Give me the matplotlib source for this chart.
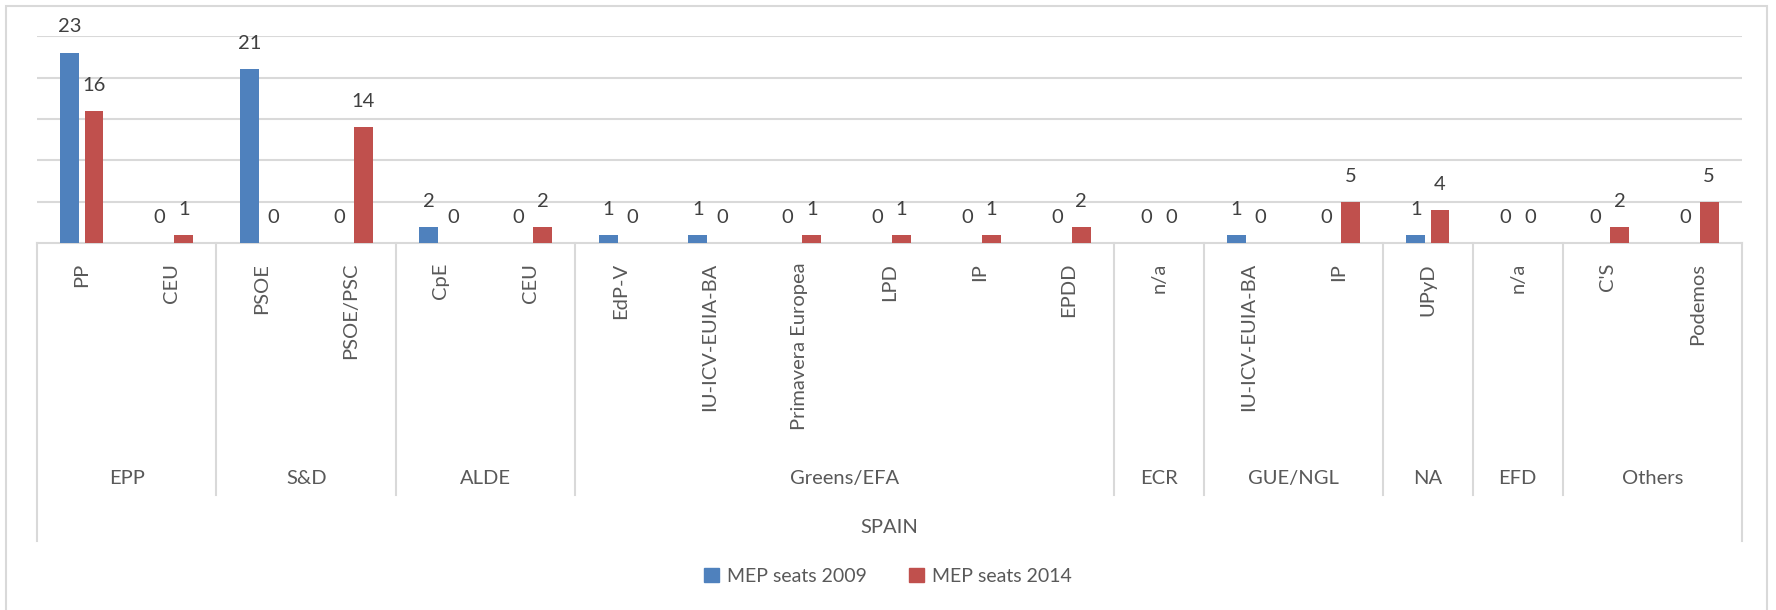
import numpy as np
import matplotlib
matplotlib.use('Agg')
import matplotlib.pyplot as plt
from matplotlib.patches import Rectangle, Patch

plt.rcParams['font.family'] = ['Lato', 'DejaVu Sans']

# party lists, grouped by EP political group
parties = ['PP', 'CEU', 'PSOE', 'PSOE/PSC', 'CpE', 'CEU', 'EdP-V', 'IU-ICV-EUIA-BA',
           'Primavera Europea', 'LPD', 'IP', 'EPDD', 'n/a', 'IU-ICV-EUIA-BA', 'IP',
           'UPyD', 'n/a', "C'S", 'Podemos']
groups = ['EPP', 'S&D', 'ALDE', 'Greens/EFA', 'ECR', 'GUE/NGL', 'NA', 'EFD', 'Others']
group_sizes = [2, 2, 2, 6, 1, 2, 1, 1, 2]
country = 'SPAIN'
seats_2009 = [23, 0, 21, 0, 2, 0, 1, 1, 0, 0, 0, 0, 0, 1, 0, 1, 0, 0, 0]
seats_2014 = [16, 1, 0, 14, 0, 2, 0, 0, 1, 1, 1, 2, 0, 0, 5, 4, 0, 2, 5]

blue = '#4F81BD'
red = '#C0504D'
text_col = '#595959'
grid_col = '#D9D9D9'

W, H = 1776, 610
fig = plt.figure(figsize=(W / 100, H / 100), dpi=100)

# plot area in pixel terms
left_px, right_px = 37, 1742
top_px, base_px = 36, 243.5
ax = fig.add_axes([left_px / W, 1 - base_px / H, (right_px - left_px) / W, (base_px - top_px) / H])

x = np.arange(len(parties))
bw = 0.21
off = 0.135
ax.bar(x - off, seats_2009, bw, color=blue, label='MEP seats 2009', zorder=3)
ax.bar(x + off, seats_2014, bw, color=red, label='MEP seats 2014', zorder=3)

for xi, v1, v2 in zip(x, seats_2009, seats_2014):
    for xx, v in ((xi - off, v1), (xi + off, v2)):
        ax.annotate(str(v), (xx, v), xytext=(0, 18.5), textcoords='offset points',
                    ha='center', va='center', fontsize=14.5, color='#404040')

ax.set_xlim(-0.5, len(parties) - 0.5)
ax.set_ylim(0, 25)
ax.set_yticks([5, 10, 15, 20, 25])
ax.yaxis.grid(True, color=grid_col, lw=1.5, zorder=0)
ax.set_xticks([])
ax.tick_params(left=False, labelleft=False)
for s in ['top', 'right', 'left']:
    ax.spines[s].set_visible(False)
ax.spines['bottom'].set_color(grid_col)
ax.spines['bottom'].set_linewidth(1.5)

# multi-level category axis
tr = ax.get_xaxis_transform()
ph = base_px - top_px
def ay(px):
    return -(px - base_px) / ph

for xi, name in zip(x, parties):
    ax.text(xi, ay(263), name, rotation=90, ha='center', va='top',
            fontsize=14.5, color=text_col, transform=tr)

edges = np.concatenate([[0], np.cumsum(group_sizes)]) - 0.5
for i, e in enumerate(edges):
    outer = i == 0 or i == len(edges) - 1
    ax.plot([e, e], [0, ay(541 if outer else 495)], color=grid_col, lw=1.5,
            transform=tr, clip_on=False)
for g, a, b in zip(groups, edges[:-1], edges[1:]):
    ax.text((a + b) / 2, ay(479), g, ha='center', va='center',
            fontsize=14.5, color=text_col, transform=tr)
ax.text((edges[0] + edges[-1]) / 2, ay(528), country, ha='center', va='center',
        fontsize=14.5, color=text_col, transform=tr)

# outer chart border
fig.patches.append(Rectangle((6 / W, -0.05), (1767 - 6) / W, 1.05 - 6 / H,
                             transform=fig.transFigure, fill=False,
                             edgecolor=grid_col, lw=1.5))

handles = [Patch(color=blue), Patch(color=red)]
fig.legend(handles, ['MEP seats 2009', 'MEP seats 2014'], loc='center',
           bbox_to_anchor=(0.5, 1 - 576 / H), ncol=2, frameon=False,
           fontsize=14, handlelength=0.75, handleheight=0.75, handletextpad=0.4,
           columnspacing=2.2, labelcolor=text_col)

fig.savefig('out.png', dpi=100)
